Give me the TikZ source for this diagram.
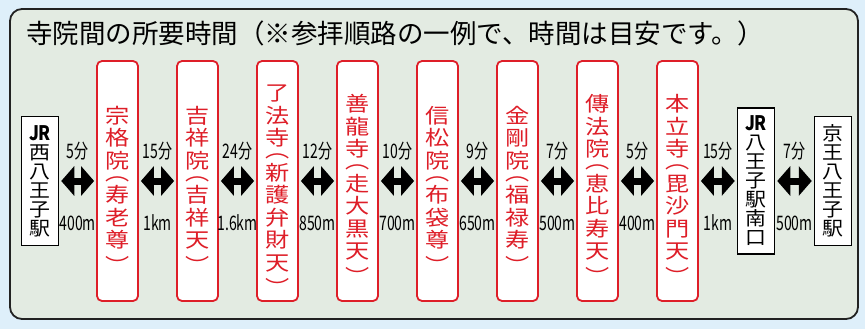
\documentclass[tikz,border=0pt]{standalone}
\usepackage{fontspec}
\setmainfont{Noto Sans CJK JP}
\newfontfamily\templefont[FakeStretch=1.18]{Noto Sans CJK JP}
\newfontfamily\stationfont[FakeStretch=1.1]{Noto Sans CJK JP}
\newfontfamily\jrfont[FakeStretch=0.85]{Noto Sans CJK JP}
\newfontfamily\labelfont[FakeStretch=0.7]{Noto Sans CJK JP}
\usepackage{tikz}
\usetikzlibrary{arrows.meta,positioning}
\usepackage{xcolor}
\definecolor{hjblue}{RGB}{222,239,250}
\definecolor{hjpanel}{RGB}{227,235,226}
\definecolor{hjred}{RGB}{222,30,40}
\definecolor{hjdark}{RGB}{34,34,34}
\newcommand{\topstrut}{\rule{0pt}{34pt}}
\tikzstyle{panel} = [rounded corners=12pt, draw=hjdark, fill=hjpanel, line width=1.8pt]
\tikzstyle{temple} = [rectangle, rounded corners=5pt, minimum width=41pt, minimum height=240pt, inner sep=0pt, align=center, draw=hjred, fill=white, line width=1.8pt, text=hjred, font=\templefont\fontsize{20.5pt}{22.5pt}\selectfont]
\tikzstyle{station} = [rectangle, minimum width=37pt, inner sep=0pt, align=center, draw=black, fill=white, line width=1.5pt, font=\stationfont\fontsize{19pt}{19pt}\selectfont]
\tikzstyle{walk} = [line width=7pt, {Triangle[length=13pt,width=29pt]}-{Triangle[length=13pt,width=29pt]}, shorten <=2pt, shorten >=2pt]
\tikzstyle{timelbl} = [inner sep=0pt, font=\labelfont\fontsize{20pt}{20pt}\selectfont]

\begin{document}
\begin{tikzpicture}[x=1pt, y=-1pt, node distance=80pt]

% Background
\fill[hjblue] (0,0) rectangle (865,329);
\useasboundingbox (0,0) rectangle (865,329);
\draw[panel] (10,9) rectangle (858,319);

% Title
\node (title) [anchor=west, inner sep=0pt, font=\fontsize{26.5pt}{26.5pt}\selectfont] at (26,33) {寺院間の所要時間（※参拝順路の一例で、時間は目安です。）};

% Start station
\node (s1) [station, minimum height=129pt] at (40,181) {{\jrfont\bfseries\fontsize{20pt}{19pt}\selectfont JR}\\西\\八\\王\\子\\駅};

% Temples
\node (t1) [temple, right of=s1, node distance=77.5pt] {\topstrut 宗\\格\\院\\[-10.5pt]︵\\寿\\老\\尊\\[3pt]︶};
\node (t2) [temple, right of=t1] {\topstrut 吉\\祥\\院\\[-10.5pt]︵\\吉\\祥\\天\\[3pt]︶};
\node (t3) [temple, right of=t2] {\topstrut 了\\法\\寺\\[-10.5pt]︵\\新\\護\\弁\\財\\天\\[3pt]︶};
\node (t4) [temple, right of=t3] {\topstrut 善\\龍\\寺\\[-10.5pt]︵\\走\\大\\黒\\天\\[3pt]︶};
\node (t5) [temple, right of=t4] {\topstrut 信\\松\\院\\[-10.5pt]︵\\布\\袋\\尊\\[3pt]︶};
\node (t6) [temple, right of=t5] {\topstrut 金\\剛\\院\\[-10.5pt]︵\\福\\禄\\寿\\[3pt]︶};
\node (t7) [temple, right of=t6] {\topstrut 傳\\法\\院\\[-10.5pt]︵\\恵\\比\\寿\\天\\[3pt]︶};
\node (t8) [temple, right of=t7] {\topstrut 本\\立\\寺\\[-10.5pt]︵\\毘\\沙\\門\\天\\[3pt]︶};

% End stations
\node (s2) [station, minimum height=146pt, right of=t8, node distance=78.5pt] {{\jrfont\bfseries\fontsize{20pt}{19pt}\selectfont JR}\\八\\王\\子\\駅\\南\\口};
\node (s3) [station, minimum height=129pt, right of=s2, node distance=77pt] {京\\王\\八\\王\\子\\駅};

% Walking times and distances
\draw[walk] (s1) -- (t1) node[timelbl, midway, yshift=30pt] (m1) {5分} node[timelbl, midway, yshift=-42pt] (d1) {400m};
\draw[walk] (t1) -- (t2) node[timelbl, midway, yshift=30pt] (m2) {15分} node[timelbl, midway, yshift=-42pt] (d2) {1km};
\draw[walk] (t2) -- (t3) node[timelbl, midway, yshift=30pt] (m3) {24分} node[timelbl, midway, yshift=-42pt] (d3) {1.6km};
\draw[walk] (t3) -- (t4) node[timelbl, midway, yshift=30pt] (m4) {12分} node[timelbl, midway, yshift=-42pt] (d4) {850m};
\draw[walk] (t4) -- (t5) node[timelbl, midway, yshift=30pt] (m5) {10分} node[timelbl, midway, yshift=-42pt] (d5) {700m};
\draw[walk] (t5) -- (t6) node[timelbl, midway, yshift=30pt] (m6) {9分} node[timelbl, midway, yshift=-42pt] (d6) {650m};
\draw[walk] (t6) -- (t7) node[timelbl, midway, yshift=30pt] (m7) {7分} node[timelbl, midway, yshift=-42pt] (d7) {500m};
\draw[walk] (t7) -- (t8) node[timelbl, midway, yshift=30pt] (m8) {5分} node[timelbl, midway, yshift=-42pt] (d8) {400m};
\draw[walk] (t8) -- (s2) node[timelbl, midway, yshift=30pt] (m9) {15分} node[timelbl, midway, yshift=-42pt] (d9) {1km};
\draw[walk] (s2) -- (s3) node[timelbl, midway, yshift=30pt] (m10) {7分} node[timelbl, midway, yshift=-42pt] (d10) {500m};
\end{tikzpicture}
\end{document}
